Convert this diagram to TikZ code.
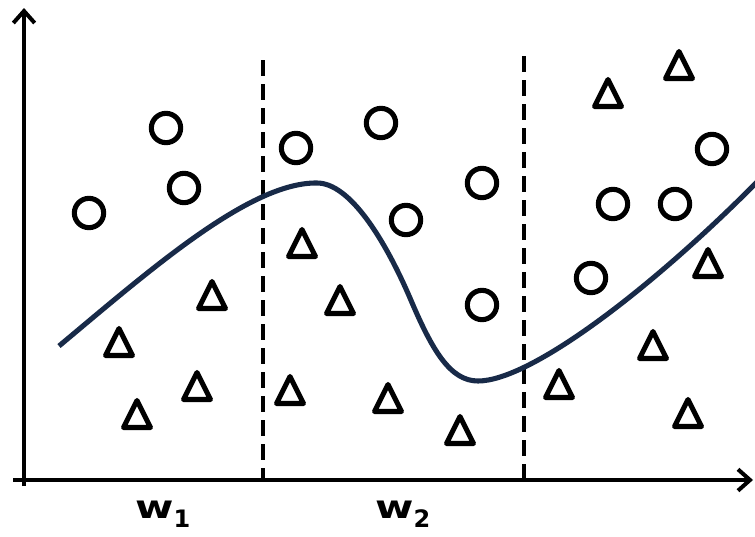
\documentclass[tikz,border=0pt]{standalone}
\usepackage{fontspec}
\newfontfamily\lblfont{DejaVu Sans}
\usetikzlibrary{arrows.meta}
\definecolor{curvenavy}{RGB}{24,42,72}
\tikzset{
  pt/.style={circle,draw,line width=3.8pt,minimum size=22pt,inner sep=0pt},
  tri/.style={draw,line width=3.8pt,line join=round},
  axis/.style={line width=3pt,-{Straight Barb[length=9pt,width=16pt]}},
  divider/.style={line width=3pt,dash pattern=on 12pt off 6pt},
  lbl/.style={inner sep=0pt,anchor=base west,font=\lblfont\bfseries\fontsize{24}{24}\selectfont}
}
\newcommand{\mytri}[3]{\coordinate (#1) at (#2,#3);
  \draw[tri] (#1) ++(0,-13.5) -- ++(-13.5,27) -- ++(27,0) -- cycle;}
\begin{document}
\begin{tikzpicture}[x=0.75pt,y=-0.75pt]
\useasboundingbox (0,0) rectangle (755,536);
% axes
\coordinate (yb) at (24,486);
\coordinate (yt) at (24,8);
\coordinate (xl) at (13,480);
\coordinate (xr) at (753,480);
\draw[axis] (yb) -- (yt);
\draw[axis] (xl) -- (xr);
% dividers
\coordinate (d1t) at (263,60);
\coordinate (d1b) at (263,480);
\coordinate (d2t) at (524,56);
\coordinate (d2b) at (524,480);
\draw[divider] (d1t) -- (d1b);
\draw[divider] (d2t) -- (d2b);
% circles
\node[pt] (c1) at (89,213) {};
\node[pt] (c2) at (166,128) {};
\node[pt] (c3) at (184,188) {};
\node[pt] (c4) at (296,148) {};
\node[pt] (c5) at (381,123) {};
\node[pt] (c6) at (406,220) {};
\node[pt] (c7) at (482,183) {};
\node[pt] (c8) at (482,305) {};
\node[pt] (c9) at (591,278) {};
\node[pt] (c10) at (613,204) {};
\node[pt] (c11) at (675,204) {};
\node[pt] (c12) at (712,149) {};
% triangles
\mytri{t1}{119}{342}
\mytri{t2}{137}{414}
\mytri{t3}{197}{386}
\mytri{t4}{212}{295}
\mytri{t5}{302}{243}
\mytri{t6}{290}{390}
\mytri{t7}{340}{300}
\mytri{t8}{388}{398}
\mytri{t9}{460}{430}
\mytri{t10}{559}{384}
\mytri{t11}{608}{93}
\mytri{t12}{679}{65}
\mytri{t13}{653}{345}
\mytri{t14}{708}{263}
\mytri{t15}{688}{413}
% separating curve
\coordinate (s0) at (59,346);
\coordinate (s1) at (317,183);
\coordinate (s2) at (410,298);
\coordinate (s3) at (478,381);
\coordinate (s4) at (757,182);
\draw[curvenavy,line width=3.8pt]
  (s0) .. controls (150,270) and (250,182) .. (s1)
       .. controls (350,183) and (385,240) .. (s2)
       .. controls (432,350) and (450,381) .. (s3)
       .. controls (530,381) and (650,290) .. (s4);
% labels
\node[lbl] (w1) at (135,518) {\scalebox{1.3}[1]{w}\raisebox{-7pt}{\fontsize{18}{18}\selectfont 1}};
\node[lbl] (w2) at (375,518) {\scalebox{1.3}[1]{w}\raisebox{-7pt}{\fontsize{18}{18}\selectfont 2}};
\end{tikzpicture}
\end{document}
